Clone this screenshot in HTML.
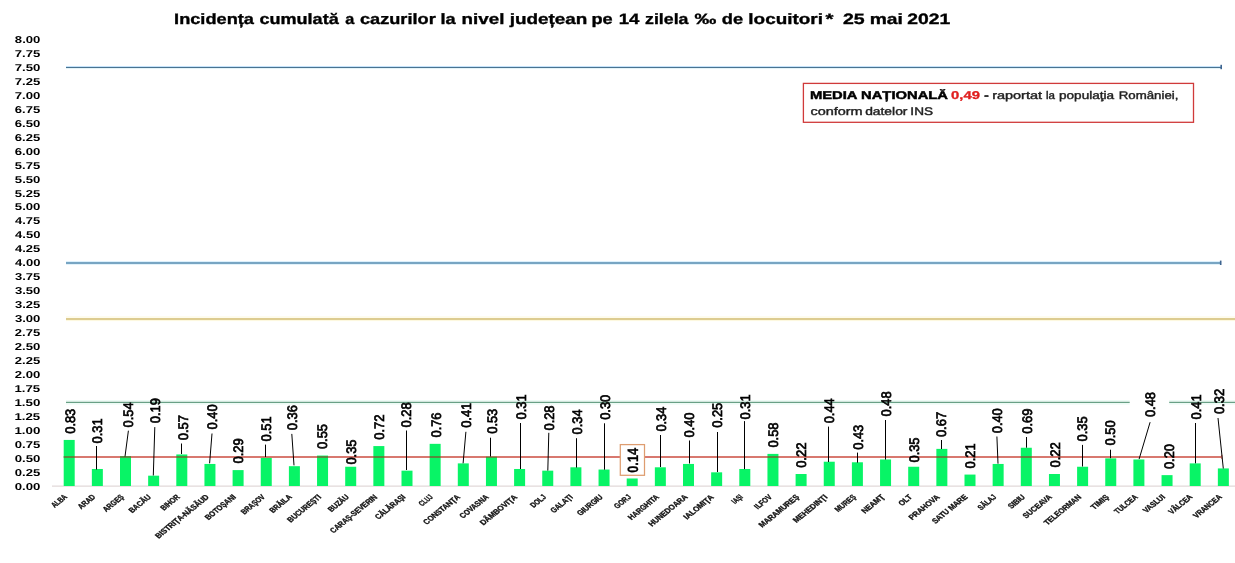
<!DOCTYPE html>
<html><head><meta charset="utf-8"><style>
html,body{margin:0;padding:0;background:#fff;}
body{width:1235px;height:563px;overflow:hidden;}
svg{display:block;will-change:transform;}
text{text-rendering:geometricPrecision;}
</style></head><body>
<svg width="1235" height="563" viewBox="0 0 1235 563">
<rect width="1235" height="563" fill="#fff"/>
<text x="174.12" y="24.20" font-family='"Liberation Sans", sans-serif' font-weight="700" font-size="15.00" fill="#000" textLength="79.80" lengthAdjust="spacingAndGlyphs" stroke="#000" stroke-width="0.35">Incidența</text>
<text x="259.48" y="24.20" font-family='"Liberation Sans", sans-serif' font-weight="700" font-size="15.00" fill="#000" textLength="79.25" lengthAdjust="spacingAndGlyphs" stroke="#000" stroke-width="0.35">cumulată</text>
<text x="345.21" y="24.20" font-family='"Liberation Sans", sans-serif' font-weight="700" font-size="15.00" fill="#000" textLength="9.04" lengthAdjust="spacingAndGlyphs" stroke="#000" stroke-width="0.35">a</text>
<text x="359.97" y="24.20" font-family='"Liberation Sans", sans-serif' font-weight="700" font-size="15.00" fill="#000" textLength="75.76" lengthAdjust="spacingAndGlyphs" stroke="#000" stroke-width="0.35">cazurilor</text>
<text x="440.53" y="24.20" font-family='"Liberation Sans", sans-serif' font-weight="700" font-size="15.00" fill="#000" textLength="15.17" lengthAdjust="spacingAndGlyphs" stroke="#000" stroke-width="0.35">la</text>
<text x="461.58" y="24.20" font-family='"Liberation Sans", sans-serif' font-weight="700" font-size="15.00" fill="#000" textLength="42.81" lengthAdjust="spacingAndGlyphs" stroke="#000" stroke-width="0.35">nivel</text>
<text x="509.68" y="24.20" font-family='"Liberation Sans", sans-serif' font-weight="700" font-size="15.00" fill="#000" textLength="77.69" lengthAdjust="spacingAndGlyphs" stroke="#000" stroke-width="0.35">județean</text>
<text x="591.42" y="24.20" font-family='"Liberation Sans", sans-serif' font-weight="700" font-size="15.00" fill="#000" textLength="21.26" lengthAdjust="spacingAndGlyphs" stroke="#000" stroke-width="0.35">pe</text>
<text x="618.69" y="24.20" font-family='"Liberation Sans", sans-serif' font-weight="700" font-size="15.00" fill="#000" textLength="20.65" lengthAdjust="spacingAndGlyphs" stroke="#000" stroke-width="0.35">14</text>
<text x="645.09" y="24.20" font-family='"Liberation Sans", sans-serif' font-weight="700" font-size="15.00" fill="#000" textLength="43.35" lengthAdjust="spacingAndGlyphs" stroke="#000" stroke-width="0.35">zilela</text>
<text x="694.46" y="24.20" font-family='"Liberation Sans", sans-serif' font-weight="700" font-size="15.00" fill="#000" textLength="21.77" lengthAdjust="spacingAndGlyphs" stroke="#000" stroke-width="0.35">‰</text>
<text x="721.87" y="24.20" font-family='"Liberation Sans", sans-serif' font-weight="700" font-size="15.00" fill="#000" textLength="21.31" lengthAdjust="spacingAndGlyphs" stroke="#000" stroke-width="0.35">de</text>
<text x="748.38" y="24.20" font-family='"Liberation Sans", sans-serif' font-weight="700" font-size="15.00" fill="#000" textLength="74.53" lengthAdjust="spacingAndGlyphs" stroke="#000" stroke-width="0.35">locuitori</text>
<text x="825.40" y="24.20" font-family='"Liberation Sans", sans-serif' font-weight="700" font-size="15.00" fill="#000" textLength="7.99" lengthAdjust="spacingAndGlyphs" stroke="#000" stroke-width="0.35">*</text>
<text x="843.02" y="24.20" font-family='"Liberation Sans", sans-serif' font-weight="700" font-size="15.00" fill="#000" textLength="21.72" lengthAdjust="spacingAndGlyphs" stroke="#000" stroke-width="0.35">25</text>
<text x="869.75" y="24.20" font-family='"Liberation Sans", sans-serif' font-weight="700" font-size="15.00" fill="#000" textLength="33.16" lengthAdjust="spacingAndGlyphs" stroke="#000" stroke-width="0.35">mai</text>
<text x="907.22" y="24.20" font-family='"Liberation Sans", sans-serif' font-weight="700" font-size="15.00" fill="#000" textLength="42.95" lengthAdjust="spacingAndGlyphs" stroke="#000" stroke-width="0.35">2021</text>
<text x="14.86" y="42.88" font-family='"Liberation Sans", sans-serif' font-weight="700" font-size="10.00" fill="#000" textLength="25.54" lengthAdjust="spacingAndGlyphs" >8.00</text>
<text x="14.73" y="56.85" font-family='"Liberation Sans", sans-serif' font-weight="700" font-size="10.00" fill="#000" textLength="25.47" lengthAdjust="spacingAndGlyphs" >7.75</text>
<text x="14.72" y="70.81" font-family='"Liberation Sans", sans-serif' font-weight="700" font-size="10.00" fill="#000" textLength="25.67" lengthAdjust="spacingAndGlyphs" >7.50</text>
<text x="14.73" y="84.78" font-family='"Liberation Sans", sans-serif' font-weight="700" font-size="10.00" fill="#000" textLength="25.47" lengthAdjust="spacingAndGlyphs" >7.25</text>
<text x="14.72" y="98.74" font-family='"Liberation Sans", sans-serif' font-weight="700" font-size="10.00" fill="#000" textLength="25.67" lengthAdjust="spacingAndGlyphs" >7.00</text>
<text x="14.79" y="112.71" font-family='"Liberation Sans", sans-serif' font-weight="700" font-size="10.00" fill="#000" textLength="25.40" lengthAdjust="spacingAndGlyphs" >6.75</text>
<text x="14.79" y="126.68" font-family='"Liberation Sans", sans-serif' font-weight="700" font-size="10.00" fill="#000" textLength="25.60" lengthAdjust="spacingAndGlyphs" >6.50</text>
<text x="14.79" y="140.64" font-family='"Liberation Sans", sans-serif' font-weight="700" font-size="10.00" fill="#000" textLength="25.40" lengthAdjust="spacingAndGlyphs" >6.25</text>
<text x="14.79" y="154.61" font-family='"Liberation Sans", sans-serif' font-weight="700" font-size="10.00" fill="#000" textLength="25.60" lengthAdjust="spacingAndGlyphs" >6.00</text>
<text x="14.86" y="168.57" font-family='"Liberation Sans", sans-serif' font-weight="700" font-size="10.00" fill="#000" textLength="25.33" lengthAdjust="spacingAndGlyphs" >5.75</text>
<text x="14.86" y="182.54" font-family='"Liberation Sans", sans-serif' font-weight="700" font-size="10.00" fill="#000" textLength="25.54" lengthAdjust="spacingAndGlyphs" >5.50</text>
<text x="14.86" y="196.51" font-family='"Liberation Sans", sans-serif' font-weight="700" font-size="10.00" fill="#000" textLength="25.33" lengthAdjust="spacingAndGlyphs" >5.25</text>
<text x="14.86" y="210.47" font-family='"Liberation Sans", sans-serif' font-weight="700" font-size="10.00" fill="#000" textLength="25.54" lengthAdjust="spacingAndGlyphs" >5.00</text>
<text x="15.06" y="224.44" font-family='"Liberation Sans", sans-serif' font-weight="700" font-size="10.00" fill="#000" textLength="25.13" lengthAdjust="spacingAndGlyphs" >4.75</text>
<text x="15.05" y="238.40" font-family='"Liberation Sans", sans-serif' font-weight="700" font-size="10.00" fill="#000" textLength="25.33" lengthAdjust="spacingAndGlyphs" >4.50</text>
<text x="15.06" y="252.37" font-family='"Liberation Sans", sans-serif' font-weight="700" font-size="10.00" fill="#000" textLength="25.13" lengthAdjust="spacingAndGlyphs" >4.25</text>
<text x="15.05" y="266.34" font-family='"Liberation Sans", sans-serif' font-weight="700" font-size="10.00" fill="#000" textLength="25.33" lengthAdjust="spacingAndGlyphs" >4.00</text>
<text x="14.93" y="280.30" font-family='"Liberation Sans", sans-serif' font-weight="700" font-size="10.00" fill="#000" textLength="25.27" lengthAdjust="spacingAndGlyphs" >3.75</text>
<text x="14.92" y="294.27" font-family='"Liberation Sans", sans-serif' font-weight="700" font-size="10.00" fill="#000" textLength="25.47" lengthAdjust="spacingAndGlyphs" >3.50</text>
<text x="14.93" y="308.23" font-family='"Liberation Sans", sans-serif' font-weight="700" font-size="10.00" fill="#000" textLength="25.27" lengthAdjust="spacingAndGlyphs" >3.25</text>
<text x="14.92" y="322.20" font-family='"Liberation Sans", sans-serif' font-weight="700" font-size="10.00" fill="#000" textLength="25.47" lengthAdjust="spacingAndGlyphs" >3.00</text>
<text x="14.79" y="336.17" font-family='"Liberation Sans", sans-serif' font-weight="700" font-size="10.00" fill="#000" textLength="25.40" lengthAdjust="spacingAndGlyphs" >2.75</text>
<text x="14.79" y="350.13" font-family='"Liberation Sans", sans-serif' font-weight="700" font-size="10.00" fill="#000" textLength="25.60" lengthAdjust="spacingAndGlyphs" >2.50</text>
<text x="14.79" y="364.10" font-family='"Liberation Sans", sans-serif' font-weight="700" font-size="10.00" fill="#000" textLength="25.40" lengthAdjust="spacingAndGlyphs" >2.25</text>
<text x="14.79" y="378.06" font-family='"Liberation Sans", sans-serif' font-weight="700" font-size="10.00" fill="#000" textLength="25.60" lengthAdjust="spacingAndGlyphs" >2.00</text>
<text x="14.46" y="392.03" font-family='"Liberation Sans", sans-serif' font-weight="700" font-size="10.00" fill="#000" textLength="25.74" lengthAdjust="spacingAndGlyphs" >1.75</text>
<text x="14.45" y="406.00" font-family='"Liberation Sans", sans-serif' font-weight="700" font-size="10.00" fill="#000" textLength="25.95" lengthAdjust="spacingAndGlyphs" >1.50</text>
<text x="14.46" y="419.96" font-family='"Liberation Sans", sans-serif' font-weight="700" font-size="10.00" fill="#000" textLength="25.74" lengthAdjust="spacingAndGlyphs" >1.25</text>
<text x="14.45" y="433.93" font-family='"Liberation Sans", sans-serif' font-weight="700" font-size="10.00" fill="#000" textLength="25.95" lengthAdjust="spacingAndGlyphs" >1.00</text>
<text x="14.73" y="447.89" font-family='"Liberation Sans", sans-serif' font-weight="700" font-size="10.00" fill="#000" textLength="25.47" lengthAdjust="spacingAndGlyphs" >0.75</text>
<text x="14.72" y="461.86" font-family='"Liberation Sans", sans-serif' font-weight="700" font-size="10.00" fill="#000" textLength="25.67" lengthAdjust="spacingAndGlyphs" >0.50</text>
<text x="14.73" y="475.83" font-family='"Liberation Sans", sans-serif' font-weight="700" font-size="10.00" fill="#000" textLength="25.47" lengthAdjust="spacingAndGlyphs" >0.25</text>
<text x="14.72" y="489.79" font-family='"Liberation Sans", sans-serif' font-weight="700" font-size="10.00" fill="#000" textLength="25.67" lengthAdjust="spacingAndGlyphs" >0.00</text>
<line x1="66" y1="66.5" x2="1221.5" y2="66.5" stroke="#c4e2fa" stroke-width="1.0"/>
<line x1="66" y1="68.5" x2="1221.5" y2="68.5" stroke="#e4f3f7" stroke-width="1.0"/>
<line x1="66" y1="67.5" x2="1221.5" y2="67.5" stroke="#4a7391" stroke-width="1.15"/>
<rect x="1220.4" y="64.8" width="1.6" height="4.4" fill="#3e6590"/>
<line x1="66" y1="261.5" x2="1221.0" y2="261.5" stroke="#dcf0fc" stroke-width="1.0"/>
<line x1="66" y1="264.5" x2="1221.0" y2="264.5" stroke="#e2f2fa" stroke-width="1.0"/>
<line x1="66" y1="263.0" x2="1221.0" y2="263.0" stroke="#78a5c3" stroke-width="1.9"/>
<rect x="1219.9" y="260.6" width="1.6" height="4.4" fill="#3e6590"/>
<line x1="66" y1="317.0" x2="1235" y2="317.0" stroke="#fdf8dc" stroke-width="1.0"/>
<line x1="66" y1="320.6" x2="1235" y2="320.6" stroke="#fdf8dc" stroke-width="1.0"/>
<line x1="66" y1="319.0" x2="1235" y2="319.0" stroke="#d2bb6c" stroke-width="1.7"/>
<line x1="66" y1="400.9" x2="1129.7" y2="400.9" stroke="#e2f8ef" stroke-width="1.0"/>
<line x1="66" y1="403.9" x2="1129.7" y2="403.9" stroke="#e2f8ef" stroke-width="1.0"/>
<line x1="66" y1="402.4" x2="1129.7" y2="402.4" stroke="#69a086" stroke-width="1.3"/>
<line x1="1169.2" y1="400.9" x2="1235" y2="400.9" stroke="#e2f8ef" stroke-width="1.0"/>
<line x1="1169.2" y1="403.9" x2="1235" y2="403.9" stroke="#e2f8ef" stroke-width="1.0"/>
<line x1="1169.2" y1="402.4" x2="1235" y2="402.4" stroke="#69a086" stroke-width="1.3"/>
<line x1="52" y1="486.1" x2="1235" y2="486.1" stroke="#e2d9d9" stroke-width="1.2"/>
<rect x="63.70" y="439.93" width="11.0" height="46.07" fill="#08f466"/>
<rect x="91.85" y="468.98" width="11.0" height="17.02" fill="#08f466"/>
<rect x="120.00" y="456.13" width="11.0" height="29.87" fill="#08f466"/>
<rect x="148.15" y="475.68" width="11.0" height="10.32" fill="#08f466"/>
<rect x="176.30" y="454.45" width="11.0" height="31.55" fill="#08f466"/>
<rect x="204.45" y="463.95" width="11.0" height="22.05" fill="#08f466"/>
<rect x="232.60" y="470.10" width="11.0" height="15.90" fill="#08f466"/>
<rect x="260.75" y="457.81" width="11.0" height="28.19" fill="#08f466"/>
<rect x="288.90" y="466.19" width="11.0" height="19.81" fill="#08f466"/>
<rect x="317.05" y="455.57" width="11.0" height="30.43" fill="#08f466"/>
<rect x="345.20" y="466.75" width="11.0" height="19.25" fill="#08f466"/>
<rect x="373.35" y="446.07" width="11.0" height="39.93" fill="#08f466"/>
<rect x="401.50" y="470.66" width="11.0" height="15.34" fill="#08f466"/>
<rect x="429.65" y="443.84" width="11.0" height="42.16" fill="#08f466"/>
<rect x="457.80" y="463.39" width="11.0" height="22.61" fill="#08f466"/>
<rect x="485.95" y="456.69" width="11.0" height="29.31" fill="#08f466"/>
<rect x="514.10" y="468.98" width="11.0" height="17.02" fill="#08f466"/>
<rect x="542.25" y="470.66" width="11.0" height="15.34" fill="#08f466"/>
<rect x="570.40" y="467.30" width="11.0" height="18.70" fill="#08f466"/>
<rect x="598.55" y="469.54" width="11.0" height="16.46" fill="#08f466"/>
<rect x="626.70" y="478.48" width="11.0" height="7.52" fill="#08f466"/>
<rect x="654.85" y="467.30" width="11.0" height="18.70" fill="#08f466"/>
<rect x="683.00" y="463.95" width="11.0" height="22.05" fill="#08f466"/>
<rect x="711.15" y="472.33" width="11.0" height="13.67" fill="#08f466"/>
<rect x="739.30" y="468.98" width="11.0" height="17.02" fill="#08f466"/>
<rect x="767.45" y="453.90" width="11.0" height="32.10" fill="#08f466"/>
<rect x="795.60" y="474.01" width="11.0" height="11.99" fill="#08f466"/>
<rect x="823.75" y="461.72" width="11.0" height="24.28" fill="#08f466"/>
<rect x="851.90" y="462.28" width="11.0" height="23.72" fill="#08f466"/>
<rect x="880.05" y="459.48" width="11.0" height="26.52" fill="#08f466"/>
<rect x="908.20" y="466.75" width="11.0" height="19.25" fill="#08f466"/>
<rect x="936.35" y="448.87" width="11.0" height="37.13" fill="#08f466"/>
<rect x="964.50" y="474.57" width="11.0" height="11.43" fill="#08f466"/>
<rect x="992.65" y="463.95" width="11.0" height="22.05" fill="#08f466"/>
<rect x="1020.80" y="447.75" width="11.0" height="38.25" fill="#08f466"/>
<rect x="1048.95" y="474.01" width="11.0" height="11.99" fill="#08f466"/>
<rect x="1077.10" y="466.75" width="11.0" height="19.25" fill="#08f466"/>
<rect x="1105.25" y="458.37" width="11.0" height="27.63" fill="#08f466"/>
<rect x="1133.40" y="459.48" width="11.0" height="26.52" fill="#08f466"/>
<rect x="1161.55" y="475.13" width="11.0" height="10.87" fill="#08f466"/>
<rect x="1189.70" y="463.39" width="11.0" height="22.61" fill="#08f466"/>
<rect x="1217.85" y="468.42" width="11.0" height="17.58" fill="#08f466"/>
<line x1="67" y1="457.0" x2="1222" y2="457.0" stroke="#d8786f" stroke-width="1.9"/>
<rect x="1221" y="454.8" width="1.5" height="4" fill="#d8786f"/>
<rect x="63.70" y="456.05" width="11.0" height="1.90" fill="#4f8a3c"/>
<rect x="120.00" y="456.13" width="11.0" height="1.82" fill="#4f8a3c"/>
<rect x="176.30" y="456.05" width="11.0" height="1.90" fill="#4f8a3c"/>
<rect x="260.75" y="457.81" width="11.0" height="0.14" fill="#4f8a3c"/>
<rect x="317.05" y="456.05" width="11.0" height="1.90" fill="#4f8a3c"/>
<rect x="373.35" y="456.05" width="11.0" height="1.90" fill="#4f8a3c"/>
<rect x="429.65" y="456.05" width="11.0" height="1.90" fill="#4f8a3c"/>
<rect x="485.95" y="456.69" width="11.0" height="1.26" fill="#4f8a3c"/>
<rect x="767.45" y="456.05" width="11.0" height="1.90" fill="#4f8a3c"/>
<rect x="936.35" y="456.05" width="11.0" height="1.90" fill="#4f8a3c"/>
<rect x="1020.80" y="456.05" width="11.0" height="1.90" fill="#4f8a3c"/>
<line x1="96.5" y1="446" x2="96.5" y2="469.5" stroke="#000" stroke-width="1"/>
<line x1="128.4" y1="430.7" x2="125" y2="456.5" stroke="#000" stroke-width="1"/>
<line x1="154.8" y1="427.1" x2="153.3" y2="475.5" stroke="#000" stroke-width="1"/>
<line x1="181.5" y1="443.5" x2="181.5" y2="454" stroke="#000" stroke-width="1"/>
<line x1="212" y1="433.5" x2="209.6" y2="463.3" stroke="#000" stroke-width="1"/>
<line x1="265.5" y1="444.6" x2="265.5" y2="457" stroke="#000" stroke-width="1"/>
<line x1="291.8" y1="433.9" x2="294" y2="465.4" stroke="#000" stroke-width="1"/>
<line x1="406.5" y1="430.5" x2="406.5" y2="470" stroke="#000" stroke-width="1"/>
<line x1="465.9" y1="431.8" x2="463.1" y2="463.3" stroke="#000" stroke-width="1"/>
<line x1="490.5" y1="437.7" x2="490.5" y2="456.5" stroke="#000" stroke-width="1"/>
<line x1="520.5" y1="423" x2="520.5" y2="469" stroke="#000" stroke-width="1"/>
<line x1="548.8" y1="432.8" x2="547.8" y2="470.6" stroke="#000" stroke-width="1"/>
<line x1="576.5" y1="438.2" x2="576.5" y2="467.6" stroke="#000" stroke-width="1"/>
<line x1="604.5" y1="423.3" x2="604.5" y2="469.7" stroke="#000" stroke-width="1"/>
<line x1="660.5" y1="435" x2="660.5" y2="467" stroke="#000" stroke-width="1"/>
<line x1="689.5" y1="440.5" x2="689.5" y2="463.5" stroke="#000" stroke-width="1"/>
<line x1="717.5" y1="432" x2="717.5" y2="472" stroke="#000" stroke-width="1"/>
<line x1="744.5" y1="421.1" x2="744.5" y2="469.1" stroke="#000" stroke-width="1"/>
<line x1="828.5" y1="426.6" x2="828.5" y2="462" stroke="#000" stroke-width="1"/>
<line x1="857.5" y1="452.6" x2="857.5" y2="462.7" stroke="#000" stroke-width="1"/>
<line x1="885.5" y1="420" x2="885.5" y2="459.6" stroke="#000" stroke-width="1"/>
<line x1="941.5" y1="440" x2="941.5" y2="449" stroke="#000" stroke-width="1"/>
<line x1="996.9" y1="436.5" x2="998" y2="463.7" stroke="#000" stroke-width="1"/>
<line x1="1026.5" y1="437" x2="1026.5" y2="447.7" stroke="#000" stroke-width="1"/>
<line x1="1082.5" y1="444.9" x2="1082.5" y2="466.5" stroke="#000" stroke-width="1"/>
<line x1="1110.5" y1="449.7" x2="1110.5" y2="458.2" stroke="#000" stroke-width="1"/>
<line x1="1150.1" y1="422.2" x2="1139.1" y2="459.1" stroke="#000" stroke-width="1"/>
<line x1="1195.5" y1="423" x2="1195.5" y2="463.3" stroke="#000" stroke-width="1"/>
<line x1="1218" y1="418" x2="1223.3" y2="468.5" stroke="#000" stroke-width="1"/>
<text transform="translate(74.61,433.78) rotate(-90)" x="0" y="0" font-family='"Liberation Sans", sans-serif' font-weight="400" font-size="13.80" fill="#000" stroke="#000" stroke-width="0.7" textLength="25.05" lengthAdjust="spacingAndGlyphs">0.83</text>
<text transform="translate(101.55,443.39) rotate(-90)" x="0" y="0" font-family='"Liberation Sans", sans-serif' font-weight="400" font-size="13.80" fill="#000" stroke="#000" stroke-width="0.7" textLength="25.11" lengthAdjust="spacingAndGlyphs">0.31</text>
<text transform="translate(133.41,427.38) rotate(-90)" x="0" y="0" font-family='"Liberation Sans", sans-serif' font-weight="400" font-size="13.80" fill="#000" stroke="#000" stroke-width="0.7" textLength="24.91" lengthAdjust="spacingAndGlyphs">0.54</text>
<text transform="translate(160.07,423.26) rotate(-90)" x="0" y="0" font-family='"Liberation Sans", sans-serif' font-weight="400" font-size="13.80" fill="#000" stroke="#000" stroke-width="0.7" textLength="25.11" lengthAdjust="spacingAndGlyphs">0.19</text>
<text transform="translate(188.26,440.27) rotate(-90)" x="0" y="0" font-family='"Liberation Sans", sans-serif' font-weight="400" font-size="13.80" fill="#000" stroke="#000" stroke-width="0.7" textLength="25.18" lengthAdjust="spacingAndGlyphs">0.57</text>
<text transform="translate(217.22,429.43) rotate(-90)" x="0" y="0" font-family='"Liberation Sans", sans-serif' font-weight="400" font-size="13.80" fill="#000" stroke="#000" stroke-width="0.7" textLength="24.98" lengthAdjust="spacingAndGlyphs">0.40</text>
<text transform="translate(242.95,463.52) rotate(-90)" x="0" y="0" font-family='"Liberation Sans", sans-serif' font-weight="400" font-size="13.80" fill="#000" stroke="#000" stroke-width="0.7" textLength="25.11" lengthAdjust="spacingAndGlyphs">0.29</text>
<text transform="translate(271.26,441.39) rotate(-90)" x="0" y="0" font-family='"Liberation Sans", sans-serif' font-weight="400" font-size="13.80" fill="#000" stroke="#000" stroke-width="0.7" textLength="25.11" lengthAdjust="spacingAndGlyphs">0.51</text>
<text transform="translate(297.04,430.26) rotate(-90)" x="0" y="0" font-family='"Liberation Sans", sans-serif' font-weight="400" font-size="13.80" fill="#000" stroke="#000" stroke-width="0.7" textLength="25.05" lengthAdjust="spacingAndGlyphs">0.36</text>
<text transform="translate(327.28,449.07) rotate(-90)" x="0" y="0" font-family='"Liberation Sans", sans-serif' font-weight="400" font-size="13.80" fill="#000" stroke="#000" stroke-width="0.7" textLength="25.05" lengthAdjust="spacingAndGlyphs">0.55</text>
<text transform="translate(356.45,464.56) rotate(-90)" x="0" y="0" font-family='"Liberation Sans", sans-serif' font-weight="400" font-size="13.80" fill="#000" stroke="#000" stroke-width="0.7" textLength="25.05" lengthAdjust="spacingAndGlyphs">0.35</text>
<text transform="translate(384.22,439.78) rotate(-90)" x="0" y="0" font-family='"Liberation Sans", sans-serif' font-weight="400" font-size="13.80" fill="#000" stroke="#000" stroke-width="0.7" textLength="25.18" lengthAdjust="spacingAndGlyphs">0.72</text>
<text transform="translate(411.32,427.38) rotate(-90)" x="0" y="0" font-family='"Liberation Sans", sans-serif' font-weight="400" font-size="13.80" fill="#000" stroke="#000" stroke-width="0.7" textLength="25.05" lengthAdjust="spacingAndGlyphs">0.28</text>
<text transform="translate(440.65,437.52) rotate(-90)" x="0" y="0" font-family='"Liberation Sans", sans-serif' font-weight="400" font-size="13.80" fill="#000" stroke="#000" stroke-width="0.7" textLength="25.05" lengthAdjust="spacingAndGlyphs">0.76</text>
<text transform="translate(470.55,427.82) rotate(-90)" x="0" y="0" font-family='"Liberation Sans", sans-serif' font-weight="400" font-size="13.80" fill="#000" stroke="#000" stroke-width="0.7" textLength="25.11" lengthAdjust="spacingAndGlyphs">0.41</text>
<text transform="translate(496.61,433.78) rotate(-90)" x="0" y="0" font-family='"Liberation Sans", sans-serif' font-weight="400" font-size="13.80" fill="#000" stroke="#000" stroke-width="0.7" textLength="25.05" lengthAdjust="spacingAndGlyphs">0.53</text>
<text transform="translate(525.99,419.39) rotate(-90)" x="0" y="0" font-family='"Liberation Sans", sans-serif' font-weight="400" font-size="13.80" fill="#000" stroke="#000" stroke-width="0.7" textLength="25.11" lengthAdjust="spacingAndGlyphs">0.31</text>
<text transform="translate(554.21,430.52) rotate(-90)" x="0" y="0" font-family='"Liberation Sans", sans-serif' font-weight="400" font-size="13.80" fill="#000" stroke="#000" stroke-width="0.7" textLength="25.05" lengthAdjust="spacingAndGlyphs">0.28</text>
<text transform="translate(581.57,434.38) rotate(-90)" x="0" y="0" font-family='"Liberation Sans", sans-serif' font-weight="400" font-size="13.80" fill="#000" stroke="#000" stroke-width="0.7" textLength="24.91" lengthAdjust="spacingAndGlyphs">0.34</text>
<text transform="translate(610.37,419.82) rotate(-90)" x="0" y="0" font-family='"Liberation Sans", sans-serif' font-weight="400" font-size="13.80" fill="#000" stroke="#000" stroke-width="0.7" textLength="24.98" lengthAdjust="spacingAndGlyphs">0.30</text>
<rect x="620.3" y="444.6" width="24.2" height="30.7" fill="#fff" stroke="#de9d70" stroke-width="1.25"/>
<text transform="translate(637.63,472.71) rotate(-90)" x="0" y="0" font-family='"Liberation Sans", sans-serif' font-weight="700" font-size="14.93" fill="#000" stroke="#000" stroke-width="0.3" textLength="24.79" lengthAdjust="spacingAndGlyphs">0.14</text>
<text transform="translate(665.80,431.56) rotate(-90)" x="0" y="0" font-family='"Liberation Sans", sans-serif' font-weight="400" font-size="13.80" fill="#000" stroke="#000" stroke-width="0.7" textLength="24.91" lengthAdjust="spacingAndGlyphs">0.34</text>
<text transform="translate(694.08,437.52) rotate(-90)" x="0" y="0" font-family='"Liberation Sans", sans-serif' font-weight="400" font-size="13.80" fill="#000" stroke="#000" stroke-width="0.7" textLength="24.98" lengthAdjust="spacingAndGlyphs">0.40</text>
<text transform="translate(722.26,427.82) rotate(-90)" x="0" y="0" font-family='"Liberation Sans", sans-serif' font-weight="400" font-size="13.80" fill="#000" stroke="#000" stroke-width="0.7" textLength="25.05" lengthAdjust="spacingAndGlyphs">0.25</text>
<text transform="translate(749.56,419.39) rotate(-90)" x="0" y="0" font-family='"Liberation Sans", sans-serif' font-weight="400" font-size="13.80" fill="#000" stroke="#000" stroke-width="0.7" textLength="25.11" lengthAdjust="spacingAndGlyphs">0.31</text>
<text transform="translate(778.37,447.56) rotate(-90)" x="0" y="0" font-family='"Liberation Sans", sans-serif' font-weight="400" font-size="13.80" fill="#000" stroke="#000" stroke-width="0.7" textLength="25.05" lengthAdjust="spacingAndGlyphs">0.58</text>
<text transform="translate(806.17,467.82) rotate(-90)" x="0" y="0" font-family='"Liberation Sans", sans-serif' font-weight="400" font-size="13.80" fill="#000" stroke="#000" stroke-width="0.7" textLength="25.18" lengthAdjust="spacingAndGlyphs">0.22</text>
<text transform="translate(834.09,423.26) rotate(-90)" x="0" y="0" font-family='"Liberation Sans", sans-serif' font-weight="400" font-size="13.80" fill="#000" stroke="#000" stroke-width="0.7" textLength="24.91" lengthAdjust="spacingAndGlyphs">0.44</text>
<text transform="translate(863.30,449.78) rotate(-90)" x="0" y="0" font-family='"Liberation Sans", sans-serif' font-weight="400" font-size="13.80" fill="#000" stroke="#000" stroke-width="0.7" textLength="25.05" lengthAdjust="spacingAndGlyphs">0.43</text>
<text transform="translate(891.09,416.39) rotate(-90)" x="0" y="0" font-family='"Liberation Sans", sans-serif' font-weight="400" font-size="13.80" fill="#000" stroke="#000" stroke-width="0.7" textLength="25.05" lengthAdjust="spacingAndGlyphs">0.48</text>
<text transform="translate(919.37,462.52) rotate(-90)" x="0" y="0" font-family='"Liberation Sans", sans-serif' font-weight="400" font-size="13.80" fill="#000" stroke="#000" stroke-width="0.7" textLength="25.05" lengthAdjust="spacingAndGlyphs">0.35</text>
<text transform="translate(946.44,437.07) rotate(-90)" x="0" y="0" font-family='"Liberation Sans", sans-serif' font-weight="400" font-size="13.80" fill="#000" stroke="#000" stroke-width="0.7" textLength="25.18" lengthAdjust="spacingAndGlyphs">0.67</text>
<text transform="translate(975.48,468.39) rotate(-90)" x="0" y="0" font-family='"Liberation Sans", sans-serif' font-weight="400" font-size="13.80" fill="#000" stroke="#000" stroke-width="0.7" textLength="25.11" lengthAdjust="spacingAndGlyphs">0.21</text>
<text transform="translate(1002.00,433.26) rotate(-90)" x="0" y="0" font-family='"Liberation Sans", sans-serif' font-weight="400" font-size="13.80" fill="#000" stroke="#000" stroke-width="0.7" textLength="24.98" lengthAdjust="spacingAndGlyphs">0.40</text>
<text transform="translate(1031.95,433.78) rotate(-90)" x="0" y="0" font-family='"Liberation Sans", sans-serif' font-weight="400" font-size="13.80" fill="#000" stroke="#000" stroke-width="0.7" textLength="25.11" lengthAdjust="spacingAndGlyphs">0.69</text>
<text transform="translate(1059.95,467.44) rotate(-90)" x="0" y="0" font-family='"Liberation Sans", sans-serif' font-weight="400" font-size="13.80" fill="#000" stroke="#000" stroke-width="0.7" textLength="25.18" lengthAdjust="spacingAndGlyphs">0.22</text>
<text transform="translate(1087.09,441.39) rotate(-90)" x="0" y="0" font-family='"Liberation Sans", sans-serif' font-weight="400" font-size="13.80" fill="#000" stroke="#000" stroke-width="0.7" textLength="25.05" lengthAdjust="spacingAndGlyphs">0.35</text>
<text transform="translate(1115.00,445.43) rotate(-90)" x="0" y="0" font-family='"Liberation Sans", sans-serif' font-weight="400" font-size="13.80" fill="#000" stroke="#000" stroke-width="0.7" textLength="24.98" lengthAdjust="spacingAndGlyphs">0.50</text>
<text transform="translate(1155.09,417.07) rotate(-90)" x="0" y="0" font-family='"Liberation Sans", sans-serif' font-weight="400" font-size="13.80" fill="#000" stroke="#000" stroke-width="0.7" textLength="25.05" lengthAdjust="spacingAndGlyphs">0.48</text>
<text transform="translate(1173.60,469.07) rotate(-90)" x="0" y="0" font-family='"Liberation Sans", sans-serif' font-weight="400" font-size="13.80" fill="#000" stroke="#000" stroke-width="0.7" textLength="24.98" lengthAdjust="spacingAndGlyphs">0.20</text>
<text transform="translate(1200.77,419.52) rotate(-90)" x="0" y="0" font-family='"Liberation Sans", sans-serif' font-weight="400" font-size="13.80" fill="#000" stroke="#000" stroke-width="0.7" textLength="25.11" lengthAdjust="spacingAndGlyphs">0.41</text>
<text transform="translate(1223.76,414.07) rotate(-90)" x="0" y="0" font-family='"Liberation Sans", sans-serif' font-weight="400" font-size="13.80" fill="#000" stroke="#000" stroke-width="0.7" textLength="25.18" lengthAdjust="spacingAndGlyphs">0.32</text>
<text transform="translate(67.76,497.55) scale(1.235,1) rotate(-45) scale(0.7365,1)" x="0" y="0" text-anchor="end" font-family='"Liberation Sans", sans-serif' font-weight="700" font-size="7.3" fill="#111" stroke="#111" stroke-width="0.3">ALBA</text>
<text transform="translate(96.00,497.55) scale(1.235,1) rotate(-45) scale(0.8000,1)" x="0" y="0" text-anchor="end" font-family='"Liberation Sans", sans-serif' font-weight="700" font-size="7.3" fill="#111" stroke="#111" stroke-width="0.3">ARAD</text>
<text transform="translate(124.51,497.55) scale(1.235,1) rotate(-45) scale(0.8018,1)" x="0" y="0" text-anchor="end" font-family='"Liberation Sans", sans-serif' font-weight="700" font-size="7.3" fill="#111" stroke="#111" stroke-width="0.3">ARGEŞ</text>
<text transform="translate(151.58,497.55) scale(1.235,1) rotate(-45) scale(0.8433,1)" x="0" y="0" text-anchor="end" font-family='"Liberation Sans", sans-serif' font-weight="700" font-size="7.3" fill="#111" stroke="#111" stroke-width="0.3">BACĂU</text>
<text transform="translate(180.45,497.55) scale(1.235,1) rotate(-45) scale(0.7996,1)" x="0" y="0" text-anchor="end" font-family='"Liberation Sans", sans-serif' font-weight="700" font-size="7.3" fill="#111" stroke="#111" stroke-width="0.3">BIHOR</text>
<text transform="translate(209.59,497.55) scale(1.235,1) rotate(-45) scale(0.8642,1)" x="0" y="0" text-anchor="end" font-family='"Liberation Sans", sans-serif' font-weight="700" font-size="7.3" fill="#111" stroke="#111" stroke-width="0.3">BISTRIŢA-NĂSĂUD</text>
<text transform="translate(236.48,497.55) scale(1.235,1) rotate(-45) scale(0.8368,1)" x="0" y="0" text-anchor="end" font-family='"Liberation Sans", sans-serif' font-weight="700" font-size="7.3" fill="#111" stroke="#111" stroke-width="0.3">BOTOŞANI</text>
<text transform="translate(265.62,497.55) scale(1.235,1) rotate(-45) scale(0.7760,1)" x="0" y="0" text-anchor="end" font-family='"Liberation Sans", sans-serif' font-weight="700" font-size="7.3" fill="#111" stroke="#111" stroke-width="0.3">BRAŞOV</text>
<text transform="translate(292.42,497.55) scale(1.235,1) rotate(-45) scale(0.8062,1)" x="0" y="0" text-anchor="end" font-family='"Liberation Sans", sans-serif' font-weight="700" font-size="7.3" fill="#111" stroke="#111" stroke-width="0.3">BRĂILA</text>
<text transform="translate(321.83,497.55) scale(1.235,1) rotate(-45) scale(0.8332,1)" x="0" y="0" text-anchor="end" font-family='"Liberation Sans", sans-serif' font-weight="700" font-size="7.3" fill="#111" stroke="#111" stroke-width="0.3">BUCUREŞTI</text>
<text transform="translate(349.62,497.55) scale(1.235,1) rotate(-45) scale(0.8176,1)" x="0" y="0" text-anchor="end" font-family='"Liberation Sans", sans-serif' font-weight="700" font-size="7.3" fill="#111" stroke="#111" stroke-width="0.3">BUZĂU</text>
<text transform="translate(377.86,497.55) scale(1.235,1) rotate(-45) scale(0.8396,1)" x="0" y="0" text-anchor="end" font-family='"Liberation Sans", sans-serif' font-weight="700" font-size="7.3" fill="#111" stroke="#111" stroke-width="0.3">CARAŞ-SEVERIN</text>
<text transform="translate(406.01,497.55) scale(1.235,1) rotate(-45) scale(0.8324,1)" x="0" y="0" text-anchor="end" font-family='"Liberation Sans", sans-serif' font-weight="700" font-size="7.3" fill="#111" stroke="#111" stroke-width="0.3">CĂLĂRAŞI</text>
<text transform="translate(433.35,497.55) scale(1.235,1) rotate(-45) scale(0.6705,1)" x="0" y="0" text-anchor="end" font-family='"Liberation Sans", sans-serif' font-weight="700" font-size="7.3" fill="#111" stroke="#111" stroke-width="0.3">CLUJ</text>
<text transform="translate(460.69,497.55) scale(1.235,1) rotate(-45) scale(0.8575,1)" x="0" y="0" text-anchor="end" font-family='"Liberation Sans", sans-serif' font-weight="700" font-size="7.3" fill="#111" stroke="#111" stroke-width="0.3">CONSTANŢA</text>
<text transform="translate(489.38,497.55) scale(1.235,1) rotate(-45) scale(0.8376,1)" x="0" y="0" text-anchor="end" font-family='"Liberation Sans", sans-serif' font-weight="700" font-size="7.3" fill="#111" stroke="#111" stroke-width="0.3">COVASNA</text>
<text transform="translate(517.98,497.55) scale(1.235,1) rotate(-45) scale(0.8935,1)" x="0" y="0" text-anchor="end" font-family='"Liberation Sans", sans-serif' font-weight="700" font-size="7.3" fill="#111" stroke="#111" stroke-width="0.3">DÂMBOVIŢA</text>
<text transform="translate(546.67,497.55) scale(1.235,1) rotate(-45) scale(0.7633,1)" x="0" y="0" text-anchor="end" font-family='"Liberation Sans", sans-serif' font-weight="700" font-size="7.3" fill="#111" stroke="#111" stroke-width="0.3">DOLJ</text>
<text transform="translate(573.38,497.55) scale(1.235,1) rotate(-45) scale(0.8156,1)" x="0" y="0" text-anchor="end" font-family='"Liberation Sans", sans-serif' font-weight="700" font-size="7.3" fill="#111" stroke="#111" stroke-width="0.3">GALAŢI</text>
<text transform="translate(603.42,497.55) scale(1.235,1) rotate(-45) scale(0.8382,1)" x="0" y="0" text-anchor="end" font-family='"Liberation Sans", sans-serif' font-weight="700" font-size="7.3" fill="#111" stroke="#111" stroke-width="0.3">GIURGIU</text>
<text transform="translate(631.66,497.55) scale(1.235,1) rotate(-45) scale(0.7799,1)" x="0" y="0" text-anchor="end" font-family='"Liberation Sans", sans-serif' font-weight="700" font-size="7.3" fill="#111" stroke="#111" stroke-width="0.3">GORJ</text>
<text transform="translate(659.72,497.55) scale(1.235,1) rotate(-45) scale(0.8477,1)" x="0" y="0" text-anchor="end" font-family='"Liberation Sans", sans-serif' font-weight="700" font-size="7.3" fill="#111" stroke="#111" stroke-width="0.3">HARGHITA</text>
<text transform="translate(688.23,497.55) scale(1.235,1) rotate(-45) scale(0.8732,1)" x="0" y="0" text-anchor="end" font-family='"Liberation Sans", sans-serif' font-weight="700" font-size="7.3" fill="#111" stroke="#111" stroke-width="0.3">HUNEDOARA</text>
<text transform="translate(714.49,497.55) scale(1.235,1) rotate(-45) scale(0.8939,1)" x="0" y="0" text-anchor="end" font-family='"Liberation Sans", sans-serif' font-weight="700" font-size="7.3" fill="#111" stroke="#111" stroke-width="0.3">IALOMIŢA</text>
<text transform="translate(743.45,497.55) scale(1.235,1) rotate(-45) scale(0.6742,1)" x="0" y="0" text-anchor="end" font-family='"Liberation Sans", sans-serif' font-weight="700" font-size="7.3" fill="#111" stroke="#111" stroke-width="0.3">IAŞI</text>
<text transform="translate(772.59,497.55) scale(1.235,1) rotate(-45) scale(0.7849,1)" x="0" y="0" text-anchor="end" font-family='"Liberation Sans", sans-serif' font-weight="700" font-size="7.3" fill="#111" stroke="#111" stroke-width="0.3">ILFOV</text>
<text transform="translate(799.75,497.55) scale(1.235,1) rotate(-45) scale(0.8879,1)" x="0" y="0" text-anchor="end" font-family='"Liberation Sans", sans-serif' font-weight="700" font-size="7.3" fill="#111" stroke="#111" stroke-width="0.3">MARAMUREŞ</text>
<text transform="translate(828.08,497.55) scale(1.235,1) rotate(-45) scale(0.9002,1)" x="0" y="0" text-anchor="end" font-family='"Liberation Sans", sans-serif' font-weight="700" font-size="7.3" fill="#111" stroke="#111" stroke-width="0.3">MEHEDINŢI</text>
<text transform="translate(856.59,497.55) scale(1.235,1) rotate(-45) scale(0.7922,1)" x="0" y="0" text-anchor="end" font-family='"Liberation Sans", sans-serif' font-weight="700" font-size="7.3" fill="#111" stroke="#111" stroke-width="0.3">MUREŞ</text>
<text transform="translate(884.83,497.55) scale(1.235,1) rotate(-45) scale(0.8794,1)" x="0" y="0" text-anchor="end" font-family='"Liberation Sans", sans-serif' font-weight="700" font-size="7.3" fill="#111" stroke="#111" stroke-width="0.3">NEAMŢ</text>
<text transform="translate(912.71,497.55) scale(1.235,1) rotate(-45) scale(0.8672,1)" x="0" y="0" text-anchor="end" font-family='"Liberation Sans", sans-serif' font-weight="700" font-size="7.3" fill="#111" stroke="#111" stroke-width="0.3">OLT</text>
<text transform="translate(940.32,497.55) scale(1.235,1) rotate(-45) scale(0.8934,1)" x="0" y="0" text-anchor="end" font-family='"Liberation Sans", sans-serif' font-weight="700" font-size="7.3" fill="#111" stroke="#111" stroke-width="0.3">PRAHOVA</text>
<text transform="translate(968.11,497.55) scale(1.235,1) rotate(-45) scale(0.8748,1)" x="0" y="0" text-anchor="end" font-family='"Liberation Sans", sans-serif' font-weight="700" font-size="7.3" fill="#111" stroke="#111" stroke-width="0.3">SATU MARE</text>
<text transform="translate(997.07,497.55) scale(1.235,1) rotate(-45) scale(0.7610,1)" x="0" y="0" text-anchor="end" font-family='"Liberation Sans", sans-serif' font-weight="700" font-size="7.3" fill="#111" stroke="#111" stroke-width="0.3">SĂLAJ</text>
<text transform="translate(1025.67,497.55) scale(1.235,1) rotate(-45) scale(0.8323,1)" x="0" y="0" text-anchor="end" font-family='"Liberation Sans", sans-serif' font-weight="700" font-size="7.3" fill="#111" stroke="#111" stroke-width="0.3">SIBIU</text>
<text transform="translate(1052.56,497.55) scale(1.235,1) rotate(-45) scale(0.8702,1)" x="0" y="0" text-anchor="end" font-family='"Liberation Sans", sans-serif' font-weight="700" font-size="7.3" fill="#111" stroke="#111" stroke-width="0.3">SUCEAVA</text>
<text transform="translate(1081.97,497.55) scale(1.235,1) rotate(-45) scale(0.8528,1)" x="0" y="0" text-anchor="end" font-family='"Liberation Sans", sans-serif' font-weight="700" font-size="7.3" fill="#111" stroke="#111" stroke-width="0.3">TELEORMAN</text>
<text transform="translate(1109.58,497.55) scale(1.235,1) rotate(-45) scale(0.8979,1)" x="0" y="0" text-anchor="end" font-family='"Liberation Sans", sans-serif' font-weight="700" font-size="7.3" fill="#111" stroke="#111" stroke-width="0.3">TIMIŞ</text>
<text transform="translate(1138.36,497.55) scale(1.235,1) rotate(-45) scale(0.7939,1)" x="0" y="0" text-anchor="end" font-family='"Liberation Sans", sans-serif' font-weight="700" font-size="7.3" fill="#111" stroke="#111" stroke-width="0.3">TULCEA</text>
<text transform="translate(1165.70,497.55) scale(1.235,1) rotate(-45) scale(0.8422,1)" x="0" y="0" text-anchor="end" font-family='"Liberation Sans", sans-serif' font-weight="700" font-size="7.3" fill="#111" stroke="#111" stroke-width="0.3">VASLUI</text>
<text transform="translate(1193.04,497.55) scale(1.235,1) rotate(-45) scale(0.8028,1)" x="0" y="0" text-anchor="end" font-family='"Liberation Sans", sans-serif' font-weight="700" font-size="7.3" fill="#111" stroke="#111" stroke-width="0.3">VÂLCEA</text>
<text transform="translate(1222.45,497.55) scale(1.235,1) rotate(-45) scale(0.8160,1)" x="0" y="0" text-anchor="end" font-family='"Liberation Sans", sans-serif' font-weight="700" font-size="7.3" fill="#111" stroke="#111" stroke-width="0.3">VRANCEA</text>
<rect x="803.4" y="83.4" width="390.1" height="38.9" fill="#fff" stroke="#d03a3a" stroke-width="1.3"/>
<text x="809.94" y="99.40" font-family='"Liberation Sans", sans-serif' font-weight="700" font-size="11.20" fill="#000" textLength="138.05" lengthAdjust="spacingAndGlyphs" stroke="#000" stroke-width="0.45">MEDIA NAȚIONALĂ</text>
<text x="951.11" y="99.40" font-family='"Liberation Sans", sans-serif' font-weight="700" font-size="11.40" fill="#e01e1e" textLength="28.83" lengthAdjust="spacingAndGlyphs" stroke="#e01e1e" stroke-width="0.3">0,49</text>
<text x="984.27" y="99.40" font-family='"Liberation Sans", sans-serif' font-weight="700" font-size="11.40" fill="#111" textLength="4.44" lengthAdjust="spacingAndGlyphs" stroke="#111" stroke-width="0.5">-</text>
<text x="992.16" y="99.40" font-family='"Liberation Sans", sans-serif' font-weight="400" font-size="11.00" fill="#222" textLength="49.83" lengthAdjust="spacingAndGlyphs" stroke="#222" stroke-width="0.4">raportat</text>
<text x="1046.05" y="99.40" font-family='"Liberation Sans", sans-serif' font-weight="400" font-size="11.00" fill="#222" textLength="8.99" lengthAdjust="spacingAndGlyphs" stroke="#222" stroke-width="0.4">la</text>
<text x="1059.02" y="99.40" font-family='"Liberation Sans", sans-serif' font-weight="400" font-size="11.00" fill="#222" textLength="55.07" lengthAdjust="spacingAndGlyphs" stroke="#222" stroke-width="0.4">populaţia</text>
<text x="1118.74" y="99.40" font-family='"Liberation Sans", sans-serif' font-weight="400" font-size="11.00" fill="#222" textLength="59.72" lengthAdjust="spacingAndGlyphs" stroke="#222" stroke-width="0.4">României,</text>
<text x="810.42" y="115.10" font-family='"Liberation Sans", sans-serif' font-weight="400" font-size="11.00" fill="#222" textLength="52.28" lengthAdjust="spacingAndGlyphs" stroke="#222" stroke-width="0.4">conform</text>
<text x="865.15" y="115.10" font-family='"Liberation Sans", sans-serif' font-weight="400" font-size="11.00" fill="#222" textLength="42.30" lengthAdjust="spacingAndGlyphs" stroke="#222" stroke-width="0.4">datelor</text>
<text x="910.38" y="115.10" font-family='"Liberation Sans", sans-serif' font-weight="400" font-size="11.00" fill="#222" textLength="22.66" lengthAdjust="spacingAndGlyphs" stroke="#222" stroke-width="0.4">INS</text>
</svg>
</body></html>
